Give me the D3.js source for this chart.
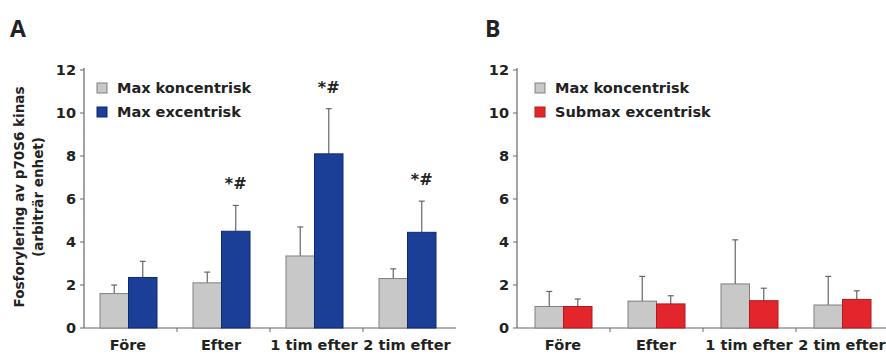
<!DOCTYPE html>
<html>
<head>
<meta charset="utf-8">
<script src="https://cdnjs.cloudflare.com/ajax/libs/d3/7.8.5/d3.min.js"></script>
<style>
  body { margin: 0; background: #fff; }
  text { font-family: "DejaVu Sans", Arial, sans-serif; font-weight: bold; fill: #222; }
</style>
</head>
<body>
<svg id="chart" width="886" height="356"></svg>
<script>
var categories = ["Före", "Efter", "1 tim efter", "2 tim efter"];
var yTicks = [0, 2, 4, 6, 8, 10, 12];

// panel A
var seriesA = ["Max koncentrisk", "Max excentrisk"];
var koncA = [1.6, 2.1, 3.35, 2.3];
var koncAErr = [2.0, 2.6, 4.7, 2.75];
var excA = [2.35, 4.5, 8.1, 4.45];
var excAErr = [3.1, 5.7, 10.2, 5.9];
var markA = ["", "*#", "*#", "*#"];

// panel B
var seriesB = ["Max koncentrisk", "Submax excentrisk"];
var koncB = [1.0, 1.25, 2.05, 1.07];
var koncBErr = [1.7, 2.4, 4.1, 2.4];
var excB = [1.0, 1.12, 1.27, 1.33];
var excBErr = [1.35, 1.5, 1.85, 1.73];

var svg = d3.select("#chart");

var y = d3.scaleLinear().domain([0, 12]).range([328, 70]);

var drawPanel = function(opts) {

	var g = svg.append("g");

	var x = d3.scaleBand().domain(categories).range([opts.left, opts.left + 372]).padding(0);
	var inner = d3.scaleBand().domain([0, 1]).range([opts.barStart, opts.barStart + 57]).padding(0);

	// y axis
	g.append("line").attr("x1", opts.left).attr("x2", opts.left)
		.attr("y1", y(12) - 2).attr("y2", y(0))
		.attr("stroke", "#666").attr("stroke-width", 1.2);
	g.selectAll(".ytick").data(yTicks).enter().append("line")
		.attr("x1", opts.left - 4).attr("x2", opts.left)
		.attr("y1", function(d) { return y(d); }).attr("y2", function(d) { return y(d); })
		.attr("stroke", "#666");
	g.selectAll(".ylab").data(yTicks).enter().append("text")
		.attr("x", opts.left - 8).attr("y", function(d) { return y(d) + 5; })
		.attr("text-anchor", "end").style("font-size", "14.5px")
		.text(function(d) { return d; });

	// x axis
	g.append("line").attr("x1", opts.left).attr("x2", opts.left + 372)
		.attr("y1", y(0)).attr("y2", y(0))
		.attr("stroke", "#666").attr("stroke-width", 1.2);
	g.selectAll(".xtick").data(categories.slice(1)).enter().append("line")
		.attr("x1", function(d) { return x(d); }).attr("x2", function(d) { return x(d); })
		.attr("y1", y(0)).attr("y2", y(0) + 4)
		.attr("stroke", "#666");
	g.selectAll(".xlab").data(categories).enter().append("text")
		.attr("x", function(d) { return x(d) + opts.barStart + 28; })
		.attr("y", 350).attr("text-anchor", "middle").style("font-size", "14.5px")
		.text(function(d) { return d; });

	// bars
	var series = [
		{vals: opts.v0, err: opts.e0, fill: "#c8c8c8", stroke: "#808080"},
		{vals: opts.v1, err: opts.e1, fill: opts.color, stroke: opts.colorStroke}
	];

	series.forEach(function(s, si) {
		var bx = function(i) { return x(categories[i]) + inner(si); };
		// error bars (upper only)
		g.selectAll(".err" + si).data(s.vals).enter().append("line")
			.attr("x1", function(d, i) { return bx(i) + inner.bandwidth() / 2; })
			.attr("x2", function(d, i) { return bx(i) + inner.bandwidth() / 2; })
			.attr("y1", function(d) { return y(d); })
			.attr("y2", function(d, i) { return y(s.err[i]); })
			.attr("stroke", "#666").attr("stroke-width", 1.2);
		g.selectAll(".cap" + si).data(s.vals).enter().append("line")
			.attr("x1", function(d, i) { return bx(i) + inner.bandwidth() / 2 - 3; })
			.attr("x2", function(d, i) { return bx(i) + inner.bandwidth() / 2 + 3; })
			.attr("y1", function(d, i) { return y(s.err[i]); })
			.attr("y2", function(d, i) { return y(s.err[i]); })
			.attr("stroke", "#666").attr("stroke-width", 1.2);
		g.selectAll(".bar" + si).data(s.vals).enter().append("rect")
			.attr("x", function(d, i) { return bx(i); })
			.attr("y", function(d) { return y(d); })
			.attr("width", inner.bandwidth())
			.attr("height", function(d) { return y(0) - y(d); })
			.attr("fill", s.fill).attr("stroke", s.stroke).attr("stroke-width", 1);
	});

	// significance marks
	if (opts.marks) {
		g.selectAll(".mark").data(opts.marks).enter().append("text")
			.attr("x", function(d, i) { return x(categories[i]) + inner(1) + inner.bandwidth() / 2; })
			.attr("y", function(d, i) { return y(opts.e1[i]) - 16; })
			.attr("text-anchor", "middle").style("font-size", "16px")
			.text(function(d) { return d; });
	}

	// legend
	var legendColors = ["#c8c8c8", opts.color];
	var legendStrokes = ["#808080", opts.colorStroke];
	opts.names.forEach(function(n, i) {
		g.append("rect").attr("x", opts.left + opts.legendX).attr("y", 83 + i * 24)
			.attr("width", 10).attr("height", 10)
			.attr("fill", legendColors[i]).attr("stroke", legendStrokes[i]);
		g.append("text").attr("x", opts.left + opts.legendX + 20).attr("y", 93 + i * 24)
			.style("font-size", "14.5px").text(n);
	});

	// panel letter
	svg.append("text").attr("x", opts.letterX).attr("y", 37)
		.style("font-family", "'Open Sans', sans-serif").style("font-size", "23px")
		.text(opts.letter);
};

drawPanel({left: 84, barStart: 16, v0: koncA, e0: koncAErr, v1: excA, e1: excAErr,
	color: "#1b3e96", colorStroke: "#0f2a70", names: seriesA, marks: markA, legendX: 13,
	letter: "A", letterX: 10});

drawPanel({left: 517, barStart: 18, v0: koncB, e0: koncBErr, v1: excB, e1: excBErr,
	color: "#e3262b", colorStroke: "#b01a1e", names: seriesB, marks: null, legendX: 18,
	letter: "B", letterX: 485});

// y axis title
svg.append("text").attr("transform", "translate(24,197) rotate(-90)")
	.attr("text-anchor", "middle").style("font-size", "13.5px")
	.text("Fosforylering av p70S6 kinas");
svg.append("text").attr("transform", "translate(43,197) rotate(-90)")
	.attr("text-anchor", "middle").style("font-size", "13.5px")
	.text("(arbiträr enhet)");
</script>
</body>
</html>
